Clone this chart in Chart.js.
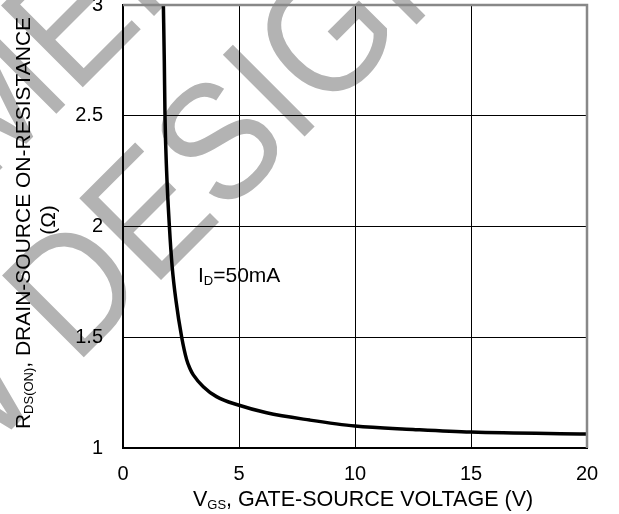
<!DOCTYPE html>
<html>
<head>
<meta charset="utf-8">
<script src="https://cdn.jsdelivr.net/npm/chart.js@4/dist/chart.umd.min.js"></script>
<style>
  html, body { margin: 0; padding: 0; background: #fff; }
  #wrap { position: relative; width: 619px; height: 514px; overflow: hidden; }
  canvas { display: block; }
</style>
</head>
<body>
<div id="wrap"><canvas id="chart" width="619" height="514"></canvas></div>
<script>
// R_DS(on) vs V_GS at I_D = 50mA
const vgs   = [1.74, 1.78, 1.81, 1.88, 2.0, 2.12, 2.28, 2.53, 2.74, 2.88, 3.03, 3.46, 4.03, 4.97, 6.19, 8.05, 10, 12.5, 15, 20];
const rdsOn = [3.0, 2.75, 2.5, 2.25, 2.0, 1.818, 1.668, 1.5, 1.40, 1.36, 1.330, 1.277, 1.232, 1.194, 1.159, 1.126, 1.099, 1.084, 1.072, 1.063];

const xTicks = [0, 5, 10, 15, 20];
const yTicks = [1, 1.5, 2, 2.5, 3];

const FONT = 'Arial, "Liberation Sans", sans-serif';

// text runs: [text, isSubscript]
function runWidth(ctx, runs, size, subSize) {
  let w = 0;
  runs.forEach(([t, sub]) => {
    ctx.font = (sub ? subSize : size) + 'px ' + FONT;
    w += ctx.measureText(t).width;
  });
  return w;
}

function drawRuns(ctx, runs, x, y, size, subSize, subDrop) {
  let cx = x;
  runs.forEach(([t, sub]) => {
    ctx.font = (sub ? subSize : size) + 'px ' + FONT;
    ctx.fillText(t, cx, sub ? y + subDrop : y);
    cx += ctx.measureText(t).width;
  });
}

const watermark = {
  id: 'watermark',
  beforeDraw(chart) {
    const ctx = chart.ctx;
    ctx.save();
    ctx.fillStyle = '#b3b3b3';
    ctx.font = '168px ' + FONT;
    ctx.textAlign = 'left';
    ctx.textBaseline = 'alphabetic';

    const lines = [
      { text: 'NOT RECOMMENDED', lead: 'NOT RECOMM', x: 74, y: 96 },
      { text: 'FOR NEW DESIGN', lead: 'FOR NEW ', x: 75, y: 366 },
    ];
    lines.forEach(l => {
      ctx.save();
      ctx.translate(l.x, l.y);
      ctx.rotate(-Math.PI / 4);
      ctx.scale(0.9, 1);
      ctx.fillText(l.text, -ctx.measureText(l.lead).width, 0);
      ctx.restore();
    });
    ctx.restore();
  },
};

const frame = {
  id: 'frame',
  afterDatasetsDraw(chart) {
    const { ctx, chartArea: a } = chart;
    ctx.save();
    ctx.strokeStyle = '#888';
    ctx.lineWidth = 2.5;
    ctx.beginPath();
    ctx.moveTo(a.left, a.top);
    ctx.lineTo(a.right, a.top);
    ctx.lineTo(a.right, a.bottom);
    ctx.stroke();
    ctx.restore();
  },
  afterDraw(chart) {
    const ctx = chart.ctx;
    ctx.save();
    ctx.fillStyle = '#000';
    ctx.textBaseline = 'alphabetic';
    ctx.textAlign = 'left';

    // x axis title
    drawRuns(ctx, [['V', false], ['GS', true], [', GATE-SOURCE VOLTAGE (V)', false]], 193, 506, 21.5, 13, 3);

    // y axis title, two lines
    const yLine1 = [['R', false], ['DS(ON)', true], [', DRAIN-SOURCE ON-RESISTANCE', false]];
    const yLine2 = [['(Ω)', false]];
    ctx.save();
    ctx.translate(30, 223);
    ctx.rotate(-Math.PI / 2);
    drawRuns(ctx, yLine1, -runWidth(ctx, yLine1, 21, 13) / 2, 0, 21, 13, 3);
    ctx.restore();
    ctx.save();
    ctx.translate(55, 220);
    ctx.rotate(-Math.PI / 2);
    drawRuns(ctx, yLine2, -runWidth(ctx, yLine2, 21, 13) / 2, 0, 21, 13, 3);
    ctx.restore();

    // curve label
    drawRuns(ctx, [['I', false], ['D', true], ['=50mA', false]], 198, 282, 21, 13, 3);
    ctx.restore();
  },
};

new Chart(document.getElementById('chart'), {
  type: 'scatter',
  data: {
    datasets: [{
      data: vgs.map((v, i) => ({ x: v, y: rdsOn[i] })),
      showLine: true,
      borderColor: '#000',
      borderWidth: 3.5,
      pointRadius: 0,
      cubicInterpolationMode: 'monotone',
    }],
  },
  options: {
    responsive: false,
    animation: false,
    layout: { padding: { top: 5, right: 32, bottom: 0, left: 0 } },
    plugins: {
      legend: { display: false },
      tooltip: { enabled: false },
    },
    scales: {
      x: {
        type: 'linear',
        min: 0,
        max: 20,
        afterBuildTicks: s => { s.ticks = xTicks.map(v => ({ value: v })); },
        afterFit: s => { s.height = 66; s.paddingLeft = 0; s.paddingRight = 0; },
        grid: { color: '#000', lineWidth: 1, drawTicks: false },
        border: { color: '#000', width: 2 },
        ticks: { color: '#000', font: { family: FONT, size: 20 }, padding: 14, maxRotation: 0 },
      },
      y: {
        type: 'linear',
        min: 1,
        max: 3,
        afterBuildTicks: s => { s.ticks = yTicks.map(v => ({ value: v })); },
        afterFit: s => { s.width = 123; s.paddingTop = 0; s.paddingBottom = 0; },
        grid: { color: '#000', lineWidth: 1, drawTicks: false },
        border: { color: '#000', width: 2 },
        ticks: { color: '#000', font: { family: FONT, size: 20 }, padding: 20, callback: v => String(v) },
      },
    },
  },
  plugins: [watermark, frame],
});
</script>
</body>
</html>
